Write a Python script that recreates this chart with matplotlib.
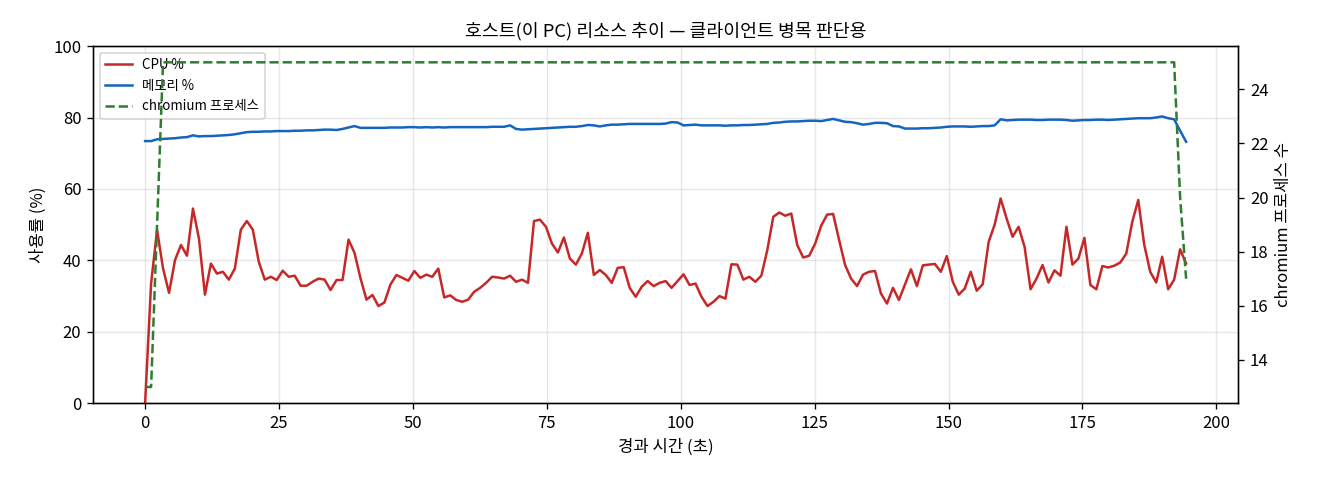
import numpy as np
import matplotlib
matplotlib.use("Agg")
import matplotlib.pyplot as plt

plt.rcParams['font.family'] = ['Noto Sans CJK KR', 'DejaVu Sans']
plt.rcParams['axes.unicode_minus'] = False

# 샘플 간격 (초)
SAMPLE_SEC = 1.117

cpu = [
    0.0, 33.5, 48.5, 37.7, 30.9, 40.1, 44.3, 41.3, 54.5, 46.1,
    30.4, 39.1, 36.3, 36.8, 34.6, 37.7, 48.6, 51.0, 48.6, 39.6,
    34.6, 35.4, 34.5, 37.1, 35.4, 35.7, 32.9, 32.9, 34.0, 34.9,
    34.6, 31.7, 34.5, 34.5, 45.8, 42.1, 35.0, 29.0, 30.3, 27.2,
    28.2, 33.2, 35.9, 35.1, 34.3, 37.0, 35.1, 36.0, 35.4, 37.7,
    29.6, 30.2, 28.9, 28.4, 29.0, 31.2, 32.3, 33.7, 35.4, 35.2,
    34.9, 35.7, 34.0, 34.6, 33.7, 51.0, 51.4, 49.4, 44.7, 42.2,
    46.4, 40.5, 38.8, 41.9, 47.7, 35.9, 37.3, 35.9, 33.7, 37.9,
    38.1, 32.3, 29.8, 32.6, 34.2, 32.8, 33.7, 34.2, 32.3, 34.2,
    36.1, 33.1, 33.5, 29.8, 27.2, 28.4, 30.0, 29.3, 38.9, 38.8,
    34.6, 35.4, 34.0, 35.7, 42.9, 52.2, 53.4, 52.5, 53.1, 44.3,
    40.8, 41.3, 44.7, 49.7, 52.8, 53.0, 45.7, 38.7, 34.9, 32.8,
    36.0, 36.8, 37.0, 30.7, 27.9, 32.3, 28.9, 33.2, 37.5, 32.8,
    38.6, 38.8, 39.0, 36.8, 41.2, 34.0, 30.4, 32.1, 36.8, 31.5,
    33.3, 45.2, 50.0, 57.3, 51.7, 46.6, 49.4, 43.8, 31.9, 34.9,
    38.7, 33.8, 37.2, 35.7, 49.4, 38.8, 40.5, 46.3, 33.1, 31.9,
    38.4, 38.0, 38.5, 39.4, 41.9, 50.8, 56.9, 44.4, 36.8, 33.8,
    41.0, 31.9, 34.6, 43.1, 39.1,
]

mem = [
    73.4, 73.4, 73.9, 74.0, 74.1, 74.2, 74.4, 74.5, 75.0, 74.7,
    74.8, 74.8, 74.9, 75.0, 75.1, 75.3, 75.6, 75.9, 76.0, 76.0,
    76.1, 76.1, 76.2, 76.2, 76.2, 76.3, 76.3, 76.4, 76.4, 76.5,
    76.6, 76.6, 76.5, 76.8, 77.2, 77.6, 77.1, 77.1, 77.1, 77.1,
    77.1, 77.2, 77.2, 77.2, 77.3, 77.3, 77.2, 77.3, 77.2, 77.3,
    77.2, 77.3, 77.3, 77.3, 77.3, 77.3, 77.3, 77.3, 77.4, 77.4,
    77.4, 77.8, 76.8, 76.6, 76.7, 76.8, 76.9, 77.0, 77.1, 77.2,
    77.3, 77.4, 77.4, 77.6, 77.9, 77.8, 77.5, 77.8, 78.0, 78.0,
    78.1, 78.2, 78.2, 78.2, 78.2, 78.2, 78.2, 78.3, 78.7, 78.6,
    77.8, 77.9, 78.0, 77.8, 77.8, 77.8, 77.8, 77.7, 77.8, 77.8,
    77.9, 77.9, 78.0, 78.1, 78.2, 78.5, 78.6, 78.8, 78.9, 78.9,
    79.0, 79.1, 79.1, 79.0, 79.3, 79.6, 79.2, 78.8, 78.7, 78.4,
    78.0, 78.2, 78.5, 78.5, 78.4, 77.6, 77.5, 76.9, 76.9, 76.9,
    77.0, 77.0, 77.1, 77.2, 77.4, 77.5, 77.5, 77.5, 77.4, 77.5,
    77.6, 77.6, 77.8, 79.5, 79.2, 79.3, 79.4, 79.4, 79.4, 79.3,
    79.3, 79.4, 79.4, 79.4, 79.3, 79.1, 79.2, 79.3, 79.3, 79.4,
    79.4, 79.3, 79.4, 79.5, 79.6, 79.7, 79.8, 79.8, 79.8, 80.0,
    80.3, 79.8, 79.5, 76.3, 73.2,
]

procs = [13, 13, 19] + [25] * 170 + [20, 17]

elapsed = np.arange(len(cpu)) * SAMPLE_SEC

fig, ax1 = plt.subplots(figsize=(11, 4), dpi=120)

l1, = ax1.plot(elapsed, cpu, color="#c62828", lw=1.5, label="CPU %")
l2, = ax1.plot(elapsed, mem, color="#1565c0", lw=1.5, label="메모리 %")
ax1.set_ylim(0, 100)
ax1.set_xlabel("경과 시간 (초)")
ax1.set_ylabel("사용률 (%)")
ax1.grid(True, alpha=0.3)

ax2 = ax1.twinx()
l3, = ax2.plot(elapsed, procs, color="#2e7d32", lw=1.5, linestyle="--",
               label="chromium 프로세스")
ax2.set_ylabel("chromium 프로세스 수")

ax1.legend(handles=[l1, l2, l3], loc="upper left", fontsize=8)
ax1.set_title("호스트(이 PC) 리소스 추이 — 클라이언트 병목 판단용", fontsize=11)

fig.subplots_adjust(left=0.0705, right=0.938, top=0.904, bottom=0.160)
fig.savefig("out.png", dpi=120)
